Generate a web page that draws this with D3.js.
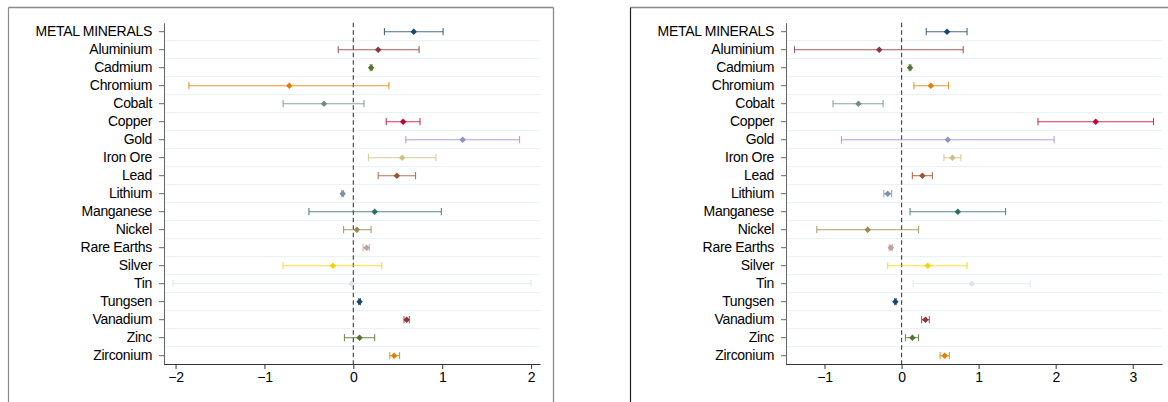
<!DOCTYPE html>
<html><head><meta charset="utf-8">
<script src="https://cdn.jsdelivr.net/npm/d3@7"></script>
<style>
html,body{margin:0;padding:0;background:#fff;}
svg{display:block;font-family:"Liberation Sans",Arial,Helvetica,sans-serif;}
</style></head>
<body><svg id="c" width="1168" height="402"></svg>
<script>
const categories = ["METAL MINERALS","Aluminium","Cadmium","Chromium","Cobalt","Copper","Gold","Iron Ore","Lead","Lithium","Manganese","Nickel","Rare Earths","Silver","Tin","Tungsen","Vanadium","Zinc","Zirconium"];
const colors = ["#1a476f","#90353b","#55752f","#e37e00","#6e8e84","#c10534","#938dd2","#cac27e","#a0522d","#7b92a8","#2d6d66","#9c8847","#bfa19c","#ffd200","#d9e6eb","#1a476f","#90353b","#55752f","#e37e00"];

const leftEst = [0.68,0.28,0.20,-0.72,-0.33,0.56,1.23,0.55,0.49,-0.12,0.24,0.04,0.15,-0.23,-0.02,0.07,0.60,0.07,0.46];
const leftLo  = [0.35,-0.17,0.19,-1.85,-0.79,0.37,0.59,0.17,0.28,-0.13,-0.50,-0.11,0.11,-0.79,-2.03,0.06,0.57,-0.10,0.41];
const leftHi  = [1.01,0.74,0.21,0.40,0.12,0.75,1.87,0.93,0.70,-0.11,0.99,0.20,0.18,0.32,2.00,0.08,0.63,0.24,0.52];
const leftTicks = [-2,-1,0,1,2];

const rightEst = [0.59,-0.29,0.11,0.38,-0.56,2.52,0.60,0.66,0.27,-0.18,0.73,-0.44,-0.14,0.34,0.91,-0.08,0.31,0.14,0.56];
const rightLo  = [0.32,-1.39,0.10,0.16,-0.89,1.77,-0.78,0.55,0.14,-0.23,0.11,-1.10,-0.16,-0.18,0.15,-0.09,0.26,0.05,0.50];
const rightHi  = [0.85,0.80,0.12,0.61,-0.24,3.27,1.98,0.77,0.40,-0.13,1.35,0.22,-0.12,0.85,1.67,-0.07,0.36,0.22,0.62];
const rightTicks = [-1,0,1,2,3];

const svg = d3.select("#c");

const panels = [
  {frame:[8.5,7.5,545,420], frameLeftColor:"#8a8a8a", xr:[164,540], dom:[-2.13,2.10], est:leftEst, lo:leftLo, hi:leftHi, ticks:leftTicks},
  {frame:[630.5,7.5,560,420], frameLeftColor:"#222", xr:[786,1162], dom:[-1.50,3.38], est:rightEst, lo:rightLo, hi:rightHi, ticks:rightTicks}
];

const yTop = 22.7, yBot = 364.7;

function styleText(sel){
  sel.attr("font-size","14px").attr("letter-spacing","-0.3px").attr("fill","#000")
     .attr("font-family","Liberation Sans, Arial, sans-serif");
}

panels.forEach(p => {
  const g = svg.append("g");
  const [fx,fy,fw,fh] = p.frame;
  g.append("line").attr("x1",fx).attr("x2",fx+fw).attr("y1",fy).attr("y2",fy).attr("stroke","#8a8a8a").attr("stroke-width",1.3);
  g.append("line").attr("x1",fx).attr("x2",fx).attr("y1",fy).attr("y2",fy+fh).attr("stroke",p.frameLeftColor).attr("stroke-width",1.2);
  g.append("line").attr("x1",fx+fw).attr("x2",fx+fw).attr("y1",fy).attr("y2",fy+fh).attr("stroke","#8a8a8a").attr("stroke-width",1.3);

  const x = d3.scaleLinear().domain(p.dom).range(p.xr);
  const y = d3.scaleBand().domain(categories).range([yTop,yBot]).padding(0);
  const yc = c => y(c) + y.bandwidth()/2;

  g.append("g").selectAll("line").data(categories.slice(1)).join("line")
    .attr("x1",p.xr[0]).attr("x2",p.xr[1])
    .attr("y1",c=>y(c)).attr("y2",c=>y(c))
    .attr("stroke","#e6eff2").attr("stroke-width",1);

  g.append("line").attr("x1",x(0)).attr("x2",x(0)).attr("y1",yTop).attr("y2",yBot)
    .attr("stroke","#4a4a4a").attr("stroke-width",1.2).attr("stroke-dasharray","4.5,3");

  const ya = g.append("g").attr("transform",`translate(${p.xr[0]},0)`)
    .call(d3.axisLeft(y).tickSize(5).tickSizeOuter(0).tickPadding(7));
  ya.select(".domain").attr("stroke","#666");
  ya.selectAll(".tick line").attr("stroke","#666");
  styleText(ya.selectAll("text"));

  const xa = g.append("g").attr("transform",`translate(0,${yBot-0.7})`)
    .call(d3.axisBottom(x).tickValues(p.ticks).tickFormat(d3.format("d")).tickSize(5).tickSizeOuter(0).tickPadding(3));
  xa.select(".domain").attr("stroke","#333");
  xa.selectAll(".tick line").attr("stroke","#333");
  styleText(xa.selectAll("text"));

  const data = categories.map((c,i)=>({c, e:p.est[i], lo:p.lo[i], hi:p.hi[i], col:colors[i]}));
  const ci = g.append("g").selectAll("g").data(data).join("g")
    .attr("stroke",d=>d.col).attr("stroke-width",1.1).attr("stroke-opacity",0.8);
  ci.append("line").attr("x1",d=>x(d.lo)).attr("x2",d=>x(d.hi)).attr("y1",d=>yc(d.c)).attr("y2",d=>yc(d.c));
  ci.append("line").attr("x1",d=>x(d.lo)).attr("x2",d=>x(d.lo)).attr("y1",d=>yc(d.c)-3.6).attr("y2",d=>yc(d.c)+3.6);
  ci.append("line").attr("x1",d=>x(d.hi)).attr("x2",d=>x(d.hi)).attr("y1",d=>yc(d.c)-3.6).attr("y2",d=>yc(d.c)+3.6);

  const sym = d3.symbol().type(d3.symbolDiamond2).size(27);
  g.append("g").selectAll("path").data(data).join("path")
    .attr("d",sym)
    .attr("transform",d=>`translate(${x(d.e)},${yc(d.c)})`)
    .attr("fill",d=>d.col);
});
</script></body></html>
